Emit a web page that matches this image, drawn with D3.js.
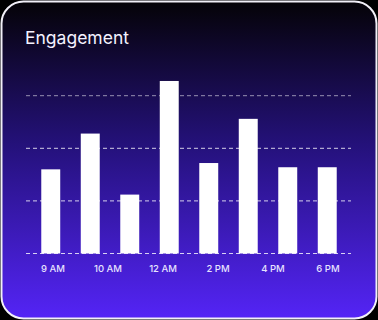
<!DOCTYPE html>
<html>
<head>
<meta charset="utf-8">
<title>Engagement</title>
<script src="https://cdn.jsdelivr.net/npm/d3@7"></script>
<style>
  html, body { margin: 0; padding: 0; background: #000; }
  svg { display: block; }
  .title { font-family: Inter, "Noto Sans", sans-serif; font-size: 17.5px; fill: #f4f2ff; }
  .tick-label { font-family: Inter, "Noto Sans", sans-serif; font-size: 9.5px; font-weight: 500; fill: #e6e2ff; }
</style>
</head>
<body>
<div id="chart"></div>
<script>
// data
var barSlots = ["s1", "s2", "s3", "s4", "s5", "s6", "s7", "s8"];
var engagement = [40, 57, 28, 82, 43, 64, 41, 41];
var timeLabels = ["9 AM", "10 AM", "12 AM", "2 PM", "4 PM", "6 PM"];
var gridValues = [0, 25, 50, 75];

var width = 378, height = 320;

var svg = d3.select("#chart").append("svg")
  .attr("width", width)
  .attr("height", height);

// background gradient for the card
var defs = svg.append("defs");
var grad = defs.append("linearGradient")
  .attr("id", "cardGrad")
  .attr("x1", 0).attr("y1", 0).attr("x2", 0).attr("y2", 1);
grad.append("stop").attr("offset", "0%").attr("stop-color", "#050307");
grad.append("stop").attr("offset", "45%").attr("stop-color", "#24117a");
grad.append("stop").attr("offset", "100%").attr("stop-color", "#5424f6");

svg.append("rect")
  .attr("x", 1.5).attr("y", 1.5)
  .attr("width", width - 3).attr("height", height - 3)
  .attr("rx", 22).attr("ry", 22)
  .attr("fill", "url(#cardGrad)")
  .attr("stroke", "#f2f0f8")
  .attr("stroke-width", 2);

svg.append("text")
  .attr("class", "title")
  .attr("x", 25).attr("y", 44)
  .text("Engagement");

// scales
var y = d3.scaleLinear().domain([0, 75]).range([253.5, 95.7]);
var x = d3.scaleBand().domain(barSlots).range([31, 347])
  .paddingInner(0.52).paddingOuter(0.26);
var xLabel = d3.scalePoint().domain(timeLabels).range([53, 328]);

// grid lines
svg.append("g").selectAll("line")
  .data(gridValues)
  .enter().append("line")
  .attr("x1", 26).attr("x2", 351)
  .attr("y1", function (d) { return y(d); })
  .attr("y2", function (d) { return y(d); })
  .attr("stroke", "#ffffff")
  .attr("stroke-opacity", function (d) { return d === 75 ? 0.55 : 0.8; })
  .attr("stroke-width", 1)
  .attr("stroke-dasharray", "4,3");

// bars
svg.append("g").selectAll("rect")
  .data(engagement)
  .enter().append("rect")
  .attr("x", function (d, i) { return x(barSlots[i]); })
  .attr("width", x.bandwidth())
  .attr("y", function (d) { return y(d); })
  .attr("height", function (d) { return y(0) - y(d); })
  .attr("fill", "#ffffff");

// x labels
svg.append("g").selectAll("text")
  .data(timeLabels)
  .enter().append("text")
  .attr("class", "tick-label")
  .attr("x", function (d) { return xLabel(d); })
  .attr("y", 272)
  .attr("text-anchor", "middle")
  .text(function (d) { return d; });
</script>
</body>
</html>
